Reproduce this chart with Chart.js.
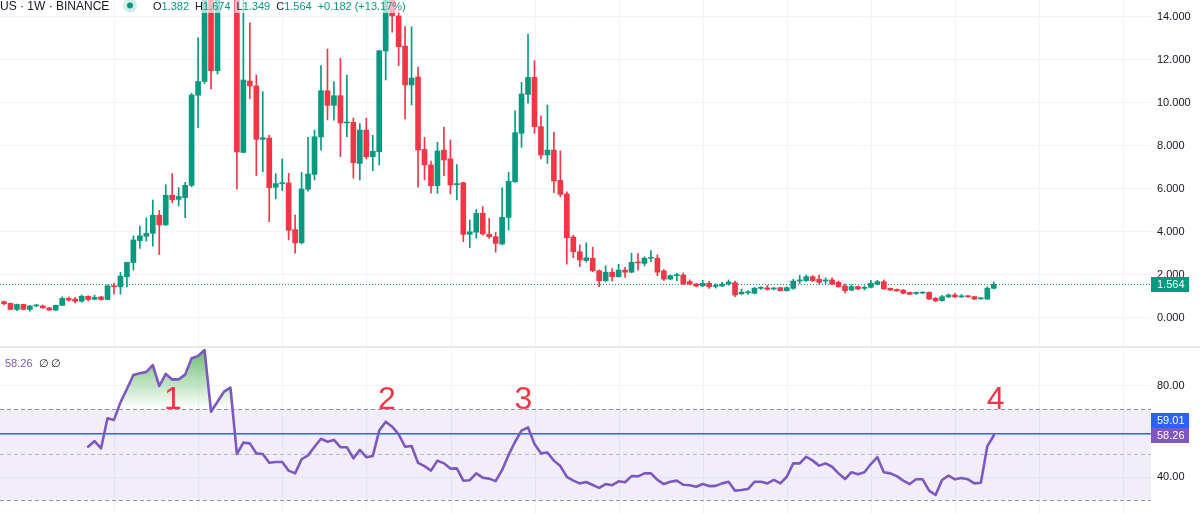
<!DOCTYPE html>
<html>
<head>
<meta charset="utf-8">
<script src="https://cdn.jsdelivr.net/npm/chart.js@4.4.1/dist/chart.umd.min.js"></script>
<style>
html, body { margin: 0; padding: 0; background: #fff; }
#wrap { position: relative; width: 1200px; height: 513px; overflow: hidden; }
#priceBox { position: absolute; left: 0; top: 0; width: 1200px; height: 347px; }
#rsiBox { position: absolute; left: 0; top: 348px; width: 1200px; height: 165px; }
#sep { position: absolute; left: 0; top: 346px; width: 1200px; height: 2px; background: #e6e8ee; }
</style>
</head>
<body>
<div id="wrap">
  <div id="priceBox"><canvas id="price"></canvas></div>
  <div id="sep"></div>
  <div id="rsiBox"><canvas id="rsi"></canvas></div>
</div>
<script>
// weekly candles, index 0..153
var opens = [
  0.76, 0.68, 0.40, 0.63, 0.40, 0.56, 0.56, 0.47, 0.37, 0.59,
  0.91, 0.88, 0.78, 1.01, 0.87, 0.98, 0.86, 1.50, 1.45, 1.92,
  2.58, 3.60, 3.80, 3.94, 4.78, 4.33, 5.71, 5.52, 5.60, 6.17,
  10.36, 11.00, 16.50, 11.50, 15.20, 16.40, 17.00, 7.70, 11.02, 10.79,
  8.31, 8.37, 6.08, 6.25, 6.28, 4.11, 3.50, 5.99, 6.68, 8.42,
  10.57, 9.89, 10.34, 9.07, 9.10, 7.19, 8.74, 7.50, 7.73, 12.42,
  15.00, 14.05, 12.65, 10.84, 11.21, 7.84, 7.12, 6.15, 7.81, 7.40,
  6.20, 6.29, 3.89, 3.99, 4.87, 3.89, 3.78, 3.44, 4.68, 6.34,
  8.59, 10.40, 11.19, 8.90, 7.58, 7.81, 6.40, 5.77, 3.77, 3.08,
  2.67, 2.78, 2.20, 1.73, 2.13, 1.92, 2.23, 2.13, 2.60, 2.54,
  2.78, 2.78, 2.19, 1.81, 1.97, 2.00, 1.69, 1.58, 1.49, 1.61,
  1.47, 1.49, 1.58, 1.64, 1.12, 1.17, 1.15, 1.38, 1.40, 1.35,
  1.41, 1.27, 1.38, 1.72, 1.74, 1.92, 1.80, 1.72, 1.77, 1.66,
  1.49, 1.30, 1.46, 1.38, 1.43, 1.57, 1.69, 1.38, 1.33, 1.30,
  1.19, 1.14, 1.16, 1.19, 0.92, 0.81, 0.98, 1.07, 0.98, 1.01,
  0.99, 0.89, 0.88, 1.382
];
var highs = [
  0.79, 0.70, 0.65, 0.64, 0.58, 0.64, 0.60, 0.49, 0.60, 0.98,
  0.98, 0.96, 1.07, 1.03, 1.06, 1.01, 1.53, 1.62, 2.12, 2.60,
  3.82, 4.28, 4.65, 5.49, 5.00, 6.20, 6.72, 6.06, 6.31, 10.45,
  13.04, 17.20, 17.50, 15.60, 17.80, 18.20, 17.60, 15.20, 13.73, 11.30,
  10.53, 8.50, 6.71, 7.40, 6.73, 4.79, 6.78, 8.40, 8.74, 11.74,
  12.51, 10.99, 12.08, 11.30, 9.30, 9.05, 9.29, 8.50, 12.45, 15.60,
  15.60, 14.30, 13.55, 13.55, 11.67, 8.40, 7.30, 8.17, 8.88, 8.28,
  7.13, 6.32, 4.56, 5.05, 5.18, 4.64, 3.99, 6.05, 6.78, 9.63,
  10.96, 13.21, 11.97, 9.40, 9.91, 8.65, 7.77, 5.87, 3.85, 3.40,
  3.50, 3.29, 2.24, 2.43, 2.30, 2.50, 2.36, 3.01, 3.00, 2.85,
  3.13, 2.94, 2.25, 2.00, 2.08, 2.10, 1.78, 1.62, 1.75, 1.70,
  1.59, 1.67, 1.77, 1.72, 1.35, 1.28, 1.43, 1.46, 1.52, 1.42,
  1.43, 1.45, 1.80, 1.98, 2.00, 1.97, 2.00, 1.87, 1.87, 1.72,
  1.58, 1.55, 1.50, 1.50, 1.75, 1.75, 1.77, 1.40, 1.35, 1.32,
  1.21, 1.20, 1.21, 1.22, 0.95, 1.05, 1.12, 1.15, 1.09, 1.04,
  1.01, 0.96, 1.45, 1.674
];
var lows = [
  0.61, 0.38, 0.34, 0.38, 0.32, 0.53, 0.45, 0.35, 0.35, 0.57,
  0.79, 0.70, 0.74, 0.79, 0.86, 0.83, 0.85, 1.12, 1.11, 1.45,
  2.23, 3.24, 3.58, 3.34, 2.95, 4.30, 5.36, 5.21, 4.67, 6.10,
  8.85, 10.90, 10.65, 11.35, 14.95, 15.30, 6.00, 7.70, 10.20, 6.62,
  6.80, 4.48, 5.54, 5.93, 3.63, 3.01, 3.45, 5.90, 6.42, 7.81,
  9.21, 9.20, 7.51, 8.43, 6.50, 6.42, 7.40, 6.85, 7.12, 11.07,
  13.29, 11.74, 9.26, 9.91, 6.08, 6.42, 5.80, 5.80, 6.62, 5.77,
  5.49, 3.55, 3.27, 3.71, 3.85, 3.70, 3.06, 3.40, 4.09, 6.30,
  7.94, 9.99, 8.59, 7.40, 7.19, 5.83, 5.64, 2.50, 2.80, 2.39,
  2.60, 2.15, 1.46, 1.70, 1.73, 1.90, 1.89, 2.10, 2.23, 2.42,
  2.62, 1.97, 1.75, 1.78, 1.73, 1.56, 1.54, 1.45, 1.46, 1.38,
  1.39, 1.47, 1.53, 0.99, 1.10, 1.10, 1.12, 1.33, 1.30, 1.30,
  1.25, 1.25, 1.33, 1.60, 1.70, 1.70, 1.58, 1.60, 1.55, 1.43,
  1.15, 1.27, 1.32, 1.30, 1.40, 1.55, 1.33, 1.28, 1.24, 1.12,
  1.08, 1.10, 1.13, 0.86, 0.75, 0.78, 0.95, 0.95, 0.95, 0.96,
  0.86, 0.87, 0.86, 1.349
];
var closes = [
  0.66, 0.40, 0.63, 0.40, 0.56, 0.58, 0.47, 0.37, 0.59, 0.91,
  0.83, 0.78, 1.01, 0.86, 0.96, 0.86, 1.50, 1.45, 1.95, 2.59,
  3.63, 3.82, 3.94, 4.78, 4.33, 5.71, 5.50, 5.65, 6.17, 10.37,
  11.00, 16.50, 11.50, 15.20, 16.40, 17.00, 7.73, 11.07, 10.79, 8.31,
  8.38, 6.06, 6.25, 6.26, 4.08, 3.49, 6.00, 6.70, 8.43, 10.57,
  9.89, 10.34, 9.07, 9.09, 7.22, 8.74, 7.50, 7.75, 12.43, 15.00,
  14.05, 12.62, 10.84, 11.16, 7.81, 7.12, 6.15, 7.77, 7.35, 6.19,
  6.25, 3.89, 4.01, 4.87, 3.91, 3.78, 3.47, 4.68, 6.36, 8.62,
  10.42, 11.19, 8.90, 7.58, 7.81, 6.37, 5.75, 3.73, 3.08, 2.70,
  2.80, 2.20, 1.73, 2.13, 1.92, 2.23, 2.13, 2.59, 2.56, 2.78,
  2.80, 2.13, 1.81, 1.97, 2.00, 1.58, 1.58, 1.49, 1.61, 1.46,
  1.50, 1.58, 1.67, 1.07, 1.20, 1.20, 1.38, 1.40, 1.33, 1.38,
  1.27, 1.41, 1.72, 1.77, 1.92, 1.74, 1.66, 1.75, 1.58, 1.46,
  1.27, 1.46, 1.35, 1.41, 1.61, 1.69, 1.35, 1.30, 1.26, 1.15,
  1.10, 1.17, 1.18, 0.88, 0.80, 0.99, 1.07, 0.98, 1.01, 0.99,
  0.88, 0.92, 1.382, 1.564
];
// RSI(14), first value at candle 13
var rsi = [
  null, null, null, null, null, null, null, null, null, null, null, null, null,
  53.3, 55.8, 52.6, 65.8, 65.1, 72.8, 78.7, 84.8, 85.6, 86.2,
  89.2, 80.0, 85.3, 82.9, 82.9, 85.0, 92.2, 93.2, 95.8, 68.7,
  73.1, 77.5, 79.3, 50.1, 55.1, 54.8, 50.4, 50.1, 46.3, 46.6,
  46.6, 42.8, 41.6, 47.8, 49.5, 53.3, 56.8, 55.5, 56.3, 53.1,
  53.1, 48.2, 51.9, 48.7, 49.2, 60.4, 64.3, 62.1, 58.8, 53.3,
  53.6, 46.2, 44.8, 42.8, 47.2, 46.0, 43.7, 43.8, 38.4, 38.6,
  41.6, 39.7, 39.3, 38.2, 43.1, 49.7, 55.5, 60.4, 61.8, 54.5,
  50.4, 50.8, 47.2, 44.8, 40.1, 38.4, 37.2, 37.8, 36.5, 35.2,
  36.9, 36.4, 38.1, 37.7, 40.4, 40.3, 41.6, 41.6, 38.7, 36.9,
  37.9, 38.4, 36.6, 36.4, 35.7, 36.9, 36.0, 36.1, 37.2, 37.9,
  34.0, 34.3, 34.7, 37.9, 37.9, 37.2, 38.7, 37.2, 40.1, 46.0,
  46.0, 48.9, 47.2, 45.0, 46.0, 44.5, 41.6, 39.1, 42.1, 41.2,
  42.1, 45.7, 48.7, 42.1, 41.6, 40.4, 38.4, 36.9, 39.0, 39.0,
  34.0, 32.1, 38.7, 40.6, 39.0, 39.6, 39.0, 37.2, 37.5, 53.6,
  58.26
];
var priceTicks = [0, 2, 4, 6, 8, 10, 12, 14];
var rsiTicks = [40, 80];
var rsiLevels = [70, 50, 30];
var drawnLevel = 59.01;
var timeGrid = [17.1, 30.1, 43.1, 56.1, 69.1, 82.1, 95.1, 108.1, 121.1, 134.1, 147.1, 160.1, 173.1];
var marks = ['1', '2', '3', '4'];
var markX = [26.1, 59.2, 80.3, 153.3];
var markY = [69.8, 69.8, 69.8, 69.8];
var title = 'US \u00b7 1W \u00b7 BINANCE';

var UP = '#089981', DOWN = '#F23645', PURPLE = '#7E57C2', BLUE = '#2962FF';
var GRID = '#f0f3fa', TEXT = '#131722';
var FONT = '"Liberation Sans", Arial, sans-serif';
var last = closes.length - 1;

var idx = closes.map(function(c, i) { return i; });
var colors = idx.map(function(i) { return closes[i] >= opens[i] ? UP : DOWN; });

function noPad(s) {
	s.paddingTop = 0; s.paddingBottom = 0; s.paddingLeft = 0; s.paddingRight = 0;
}

function xAxis() {
	return {
		type: 'linear', min: -0.62, max: 177.3, offset: false,
		afterBuildTicks: function(s) { s.ticks = timeGrid.map(function(v) { return {value: v}; }); },
		afterFit: function(s) { s.height = 0; noPad(s); },
		ticks: {display: false},
		grid: {color: GRID, drawTicks: false, offset: false},
		border: {display: false}
	};
}

function labelBox(ctx, x, yc, w, fill, text) {
	ctx.fillStyle = fill;
	ctx.fillRect(x, Math.round(yc - 7.5), w, 15);
	ctx.fillStyle = '#ffffff';
	ctx.font = '11px ' + FONT;
	ctx.textAlign = 'left';
	ctx.textBaseline = 'middle';
	ctx.fillText(text, x + 6, Math.round(yc - 7.5) + 8);
}

var priceOverlay = {
	id: 'priceOverlay',
	beforeDatasetsDraw: function(chart) {
		var ctx = chart.ctx, a = chart.chartArea;
		var py = Math.round(chart.scales.y.getPixelForValue(closes[last])) + 0.5;
		ctx.save();
		ctx.strokeStyle = UP;
		ctx.lineWidth = 1;
		ctx.setLineDash([1, 2]);
		ctx.beginPath();
		ctx.moveTo(a.left, py);
		ctx.lineTo(a.right, py);
		ctx.stroke();
		ctx.restore();
	},
	afterDraw: function(chart) {
		var ctx = chart.ctx, a = chart.chartArea;
		ctx.save();
		labelBox(ctx, a.right, chart.scales.y.getPixelForValue(closes[last]), 38, UP, closes[last].toFixed(3));

		// legend line
		ctx.textAlign = 'left';
		ctx.textBaseline = 'alphabetic';
		ctx.font = '12px ' + FONT;
		var tw = ctx.measureText(title).width;
		ctx.fillStyle = 'rgba(255,255,255,0.65)';
		ctx.fillRect(0, 0, tw + 4, 13);
		ctx.fillStyle = TEXT;
		ctx.fillText(title, 0, 10);

		ctx.fillStyle = 'rgba(8,153,129,0.18)';
		ctx.beginPath(); ctx.arc(130, 5.5, 7, 0, Math.PI * 2); ctx.fill();
		ctx.fillStyle = UP;
		ctx.beginPath(); ctx.arc(130, 5.5, 3, 0, Math.PI * 2); ctx.fill();

		ctx.font = '11px ' + FONT;
		var chg = closes[last] - closes[last - 1];
		var pct = chg / closes[last - 1] * 100;
		var parts = [
			['O', opens[last].toFixed(3)], ['H', highs[last].toFixed(3)],
			['L', lows[last].toFixed(3)], ['C', closes[last].toFixed(3)],
			['', (chg >= 0 ? '+' : '') + chg.toFixed(3) + ' (' + (pct >= 0 ? '+' : '') + pct.toFixed(2) + '%)']
		];
		var x = 153;
		parts.forEach(function(p) {
			var w1 = ctx.measureText(p[0]).width, w2 = ctx.measureText(p[1]).width;
			ctx.fillStyle = 'rgba(255,255,255,0.65)';
			ctx.fillRect(x - 2, 0, w1 + w2 + 4, 13);
			ctx.fillStyle = TEXT;
			ctx.fillText(p[0], x, 10);
			ctx.fillStyle = UP;
			ctx.fillText(p[1], x + w1, 10);
			x += w1 + w2 + 6;
		});
		ctx.restore();
	}
};

var rsiOverlay = {
	id: 'rsiOverlay',
	beforeDatasetsDraw: function(chart) {
		var ctx = chart.ctx, a = chart.chartArea, y = chart.scales.y;
		ctx.save();
		var yTop = y.getPixelForValue(rsiLevels[0]), yBot = y.getPixelForValue(rsiLevels[2]);
		ctx.fillStyle = 'rgba(126,87,194,0.1)';
		ctx.fillRect(a.left, yTop, a.right - a.left, yBot - yTop);
		ctx.lineWidth = 1;
		ctx.setLineDash([4, 3]);
		rsiLevels.forEach(function(v, k) {
			var py = Math.round(y.getPixelForValue(v)) + 0.5;
			ctx.strokeStyle = k === 1 ? 'rgba(120,123,134,0.45)' : 'rgba(120,123,134,0.8)';
			ctx.beginPath(); ctx.moveTo(a.left, py); ctx.lineTo(a.right, py); ctx.stroke();
		});
		ctx.setLineDash([]);
		ctx.strokeStyle = BLUE;
		ctx.lineWidth = 1.5;
		var by = y.getPixelForValue(drawnLevel);
		ctx.beginPath(); ctx.moveTo(a.left, by); ctx.lineTo(a.right, by); ctx.stroke();
		ctx.restore();
	},
	afterDatasetsDraw: function(chart) {
		var ctx = chart.ctx, x = chart.scales.x, y = chart.scales.y;
		ctx.save();
		ctx.font = '32px ' + FONT;
		ctx.fillStyle = '#F23645';
		ctx.textAlign = 'center';
		ctx.textBaseline = 'alphabetic';
		marks.forEach(function(t, k) {
			ctx.fillText(t, x.getPixelForValue(markX[k]), y.getPixelForValue(markY[k]));
		});
		ctx.restore();
	},
	afterDraw: function(chart) {
		var ctx = chart.ctx, a = chart.chartArea, y = chart.scales.y;
		var now = rsi[last];
		ctx.save();
		var ny = y.getPixelForValue(now);
		labelBox(ctx, a.right, ny, 38, PURPLE, now.toFixed(2));
		labelBox(ctx, a.right, ny - 15, 38, BLUE, drawnLevel.toFixed(2));

		ctx.font = '11px ' + FONT;
		ctx.textAlign = 'left';
		ctx.textBaseline = 'alphabetic';
		ctx.fillStyle = PURPLE;
		ctx.fillText(now.toFixed(2), 5, 19);
		ctx.fillStyle = TEXT;
		ctx.fillText('\u2205', 39, 19);
		ctx.fillText('\u2205', 51, 19);
		ctx.restore();
	}
};

new Chart(document.getElementById('price'), {
	type: 'bar',
	data: {
		datasets: [
			{
				data: idx.map(function(i) { return {x: i, y: [lows[i], highs[i]]}; }),
				backgroundColor: colors, barThickness: 1, grouped: false, borderWidth: 0
			},
			{
				data: idx.map(function(i) { return {x: i, y: [opens[i], closes[i]]}; }),
				backgroundColor: colors, barThickness: 5, grouped: false, borderWidth: 0, minBarLength: 1
			}
		]
	},
	options: {
		responsive: true, maintainAspectRatio: false, animation: false, events: [],
		layout: {padding: 0},
		plugins: {legend: {display: false}, tooltip: {enabled: false}},
		scales: {
			x: xAxis(),
			y: {
				position: 'right', min: -1.349, max: 14.79,
				afterBuildTicks: function(s) { s.ticks = priceTicks.map(function(v) { return {value: v}; }); },
				afterFit: function(s) { s.width = 49; noPad(s); },
				grid: {color: GRID, drawTicks: false},
				border: {display: false},
				ticks: {padding: 6, color: TEXT, font: {family: FONT, size: 11},
					callback: function(v) { return Number(v).toFixed(3); }}
			}
		}
	},
	plugins: [priceOverlay]
});

new Chart(document.getElementById('rsi'), {
	type: 'line',
	data: {
		datasets: [{
			data: idx.filter(function(i) { return rsi[i] !== null; }).map(function(i) { return {x: i, y: rsi[i]}; }),
			borderColor: PURPLE, borderWidth: 2.6, pointRadius: 0, tension: 0,
			borderJoinStyle: 'round', borderCapStyle: 'round',
			fill: {target: {value: 70}, below: 'rgba(0,0,0,0)'},
			backgroundColor: function(c) {
				var ch = c.chart, a = ch.chartArea;
				if (!a) return 'rgba(0,0,0,0)';
				var y70 = ch.scales.y.getPixelForValue(70);
				var g = ch.ctx.createLinearGradient(0, a.top, 0, y70);
				g.addColorStop(0, 'rgba(76,175,80,0.85)');
				g.addColorStop(1, 'rgba(76,175,80,0)');
				return g;
			}
		}]
	},
	options: {
		responsive: true, maintainAspectRatio: false, animation: false, events: [],
		layout: {padding: 0},
		plugins: {legend: {display: false}, tooltip: {enabled: false}},
		scales: {
			x: xAxis(),
			y: {
				position: 'right', min: 24.18, max: 96.70,
				afterBuildTicks: function(s) { s.ticks = rsiTicks.map(function(v) { return {value: v}; }); },
				afterFit: function(s) { s.width = 49; noPad(s); },
				grid: {color: GRID, drawTicks: false},
				border: {display: false},
				ticks: {padding: 6, color: TEXT, font: {family: FONT, size: 11},
					callback: function(v) { return Number(v).toFixed(2); }}
			}
		}
	},
	plugins: [rsiOverlay]
});
</script>
</body>
</html>
